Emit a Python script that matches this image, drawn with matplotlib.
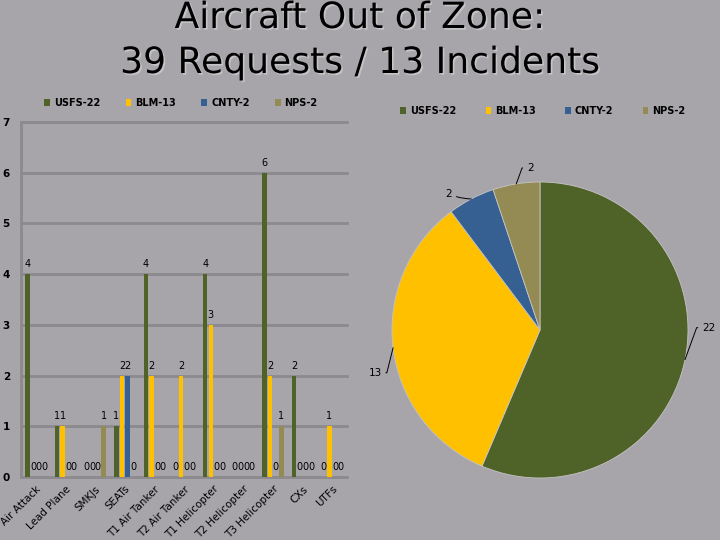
import matplotlib
matplotlib.use('Agg')
import matplotlib.pyplot as plt
import matplotlib.patheffects as pe
from matplotlib.patches import Patch
import numpy as np

categories = ["Air Attack", "Lead Plane", "SMKJs", "SEATs", "T1 Air Tanker",
              "T2 Air Tanker", "T1 Helicopter", "T2 Helicopter", "T3 Helicopter",
              "CXs", "UTFs"]
usfs = [4, 1, 0, 1, 4, 0, 4, 0, 6, 2, 0]
blm = [0, 1, 0, 2, 2, 2, 3, 0, 2, 0, 1]
cnty = [0, 0, 0, 2, 0, 0, 0, 0, 0, 0, 0]
nps = [0, 0, 1, 0, 0, 0, 0, 0, 1, 0, 0]
series_names = ["USFS-22", "BLM-13", "CNTY-2", "NPS-2"]
pie_values = [22, 13, 2, 2]
y_ticks = [0, 1, 2, 3, 4, 5, 6, 7]
title_lines = ["Aircraft Out of Zone:", "39 Requests / 13 Incidents"]

colors = ['#4F6228', '#FFC000', '#376092', '#948A54']
bg = '#A7A5AA'
grid_c = '#8B8A8E'

fig = plt.figure(figsize=(7.2, 5.4), dpi=100, facecolor=bg)
shadow = [pe.withSimplePatchShadow(offset=(1.2, -1.2), shadow_rgbFace='#d8d8d8', alpha=0.6)]
for line, base in zip(title_lines, [28, 73]):
    fig.text(0.5, 1 - base / 540, line, ha='center', va='baseline', fontsize=26,
             family='DejaVu Sans', color='black', path_effects=shadow)

# ---- bar chart ----
ax = fig.add_axes([21 / 720, 63 / 540, 326 / 720, 355 / 540])
ax.set_facecolor('none')
x = np.arange(len(categories))
offsets = [-0.285, -0.095, 0.095, 0.285]
w = 0.155
for vals, name, c, off in zip([usfs, blm, cnty, nps], series_names, colors, offsets):
    bars = ax.bar(x + off, vals, w, color=c, label=name, zorder=3)
    ax.bar_label(bars, labels=[str(v) for v in vals], padding=3.5, fontsize=7,
                 color='black', zorder=4)

ax.set_xlim(-0.5, len(categories) - 0.5)
ax.set_ylim(0, 7)
for yv in y_ticks:
    ax.axhline(yv, color=grid_c, lw=2, zorder=1, clip_on=False)
for s in ['top', 'right', 'bottom']:
    ax.spines[s].set_visible(False)
ax.spines['left'].set_color(grid_c)
ax.spines['left'].set_linewidth(2)
ax.set_yticks(y_ticks)
ax.set_yticklabels([str(v) for v in y_ticks], fontsize=7.5, fontweight='bold')
ax.tick_params(axis='y', length=0, pad=8)
ax.set_xticks(x)
ax.set_xticklabels(categories, rotation=45, ha='right', va='top',
                   rotation_mode='anchor', fontsize=7.5)
ax.tick_params(axis='x', length=0, pad=5)

handles = [Patch(facecolor=c, label=n) for c, n in zip(colors, series_names)]
fig.legend(handles=handles, loc='center', bbox_to_anchor=(181 / 720, 1 - 103 / 540),
           ncol=4, frameon=False, prop={'size': 7, 'weight': 'bold'},
           handlelength=0.6, handleheight=0.6, handletextpad=0.4, columnspacing=2.6)

# ---- pie chart ----
cx, cy, r = 540, 330, 148
ax2 = fig.add_axes([(cx - r) / 720, (540 - cy - r) / 540, 2 * r / 720, 2 * r / 540])
ax2.set_facecolor('none')
wedges, _ = ax2.pie(pie_values, colors=colors, startangle=90, counterclock=False,
                    radius=1, wedgeprops=dict(edgecolor='#C4C4C4', linewidth=0.6))
ax2.set_xlim(-1, 1)
ax2.set_ylim(-1, 1)
ax2.set_aspect('equal')
ax2.axis('off')

label_offsets = [(17, 23), (-13, -18), (-16, 3.6), (10, 11.5)]
connections = ["angle,angleA=0,angleB=70,rad=0",
               "angle,angleA=0,angleB=76,rad=0",
               "arc3,rad=0.1",
               "angle,angleA=0,angleB=70,rad=0"]
for wdg, v, off, cs in zip(wedges, pie_values, label_offsets, connections):
    ang = np.deg2rad((wdg.theta1 + wdg.theta2) / 2)
    ex, ey = np.cos(ang), np.sin(ang)
    ax2.annotate(str(v), xy=(ex, ey), xytext=off, textcoords='offset points',
                 ha='center', va='center', fontsize=7.5,
                 arrowprops=dict(arrowstyle='-', color='black', lw=0.7,
                                 shrinkA=1, shrinkB=0, connectionstyle=cs))

fig.legend(handles=handles, loc='center', bbox_to_anchor=(543 / 720, 1 - 111 / 540),
           ncol=4, frameon=False, prop={'size': 7, 'weight': 'bold'},
           handlelength=0.6, handleheight=0.6, handletextpad=0.4, columnspacing=3.0)

fig.savefig('out.png', dpi=100, facecolor=bg)
